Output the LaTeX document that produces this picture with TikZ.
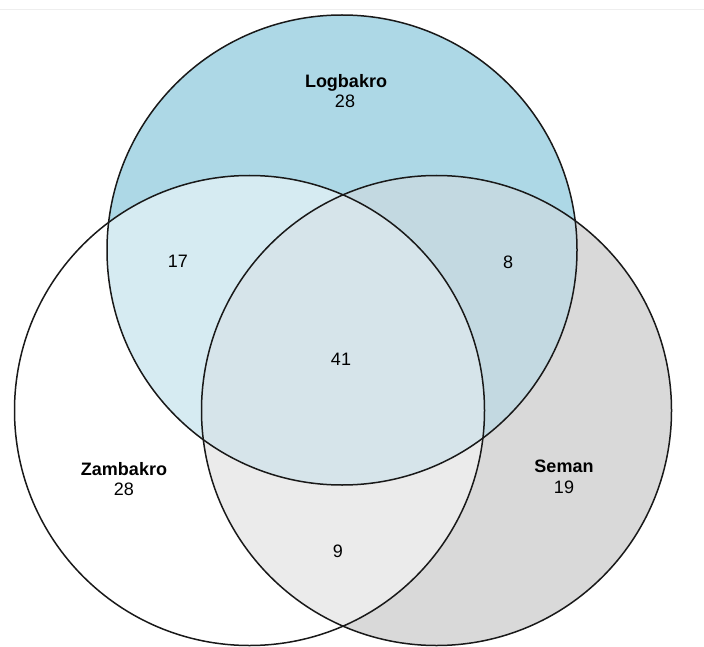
\documentclass[tikz,border=0pt]{standalone}
\usepackage{fontspec}
\setsansfont{Liberation Sans}
\usetikzlibrary{positioning}
\definecolor{logbakrocolor}{HTML}{ADD8E6}
\definecolor{semancolor}{HTML}{D9D9D9}
\definecolor{lzcolor}{HTML}{D6EBF2}
\definecolor{lscolor}{HTML}{C3D9E1}
\definecolor{zscolor}{HTML}{EBEBEB}
\definecolor{allcolor}{HTML}{D6E4EA}
\definecolor{rulecolor}{HTML}{EEEEEE}

\begin{document}
\begin{tikzpicture}[
    x=1pt, y=-1pt,
    setcircle/.style={draw=black!90, line width=1.5pt},
    setname/.style={font=\sffamily\bfseries\fontsize{18}{21}\selectfont, inner sep=0pt},
    count/.style={font=\sffamily\fontsize{18}{21}\selectfont, inner sep=0pt}
]
    \useasboundingbox (0,0) rectangle (704,647);
    \draw[rulecolor, line width=0.8pt] (0,9) -- (704,9);

    % Centres
    \def\rad{235pt}
    \coordinate (L) at (342,250);
    \coordinate (Z) at (249.5,410.5);
    \coordinate (S) at (436.5,410.5);

    % Regions
    \fill[logbakrocolor] (L) circle (\rad);
    \fill[semancolor] (S) circle (\rad);
    \begin{scope}
        \clip (L) circle (\rad);
        \fill[lscolor] (S) circle (\rad);
    \end{scope}
    \begin{scope}
        \clip (Z) circle (\rad);
        \fill[lzcolor] (L) circle (\rad);
        \fill[zscolor] (S) circle (\rad);
        \clip (L) circle (\rad);
        \fill[allcolor] (S) circle (\rad);
    \end{scope}

    % Outlines
    \draw[setcircle] (L) circle (\rad);
    \draw[setcircle] (Z) circle (\rad);
    \draw[setcircle] (S) circle (\rad);

    % Set names
    \node[setname, anchor=base] (logname) at (346,88) {Logbakro};
    \node[count, anchor=base] (logcount) at (345,108) {28};
    \node[setname, anchor=base] (zamname) at (124,475) {Zambakro};
    \node[count, anchor=base] (zamcount) at (124,495) {28};
    \node[setname, anchor=base] (semname) at (564,472) {Seman};
    \node[count, anchor=base] (semcount) at (564,493) {19};

    % Overlaps
    \node[count] (lz) at (178,261) {17};
    \node[count] (ls) at (508,262) {8};
    \node[count] (lzs) at (341,359) {41};
    \node[count] (zs) at (338,551) {9};
\end{tikzpicture}
\end{document}
